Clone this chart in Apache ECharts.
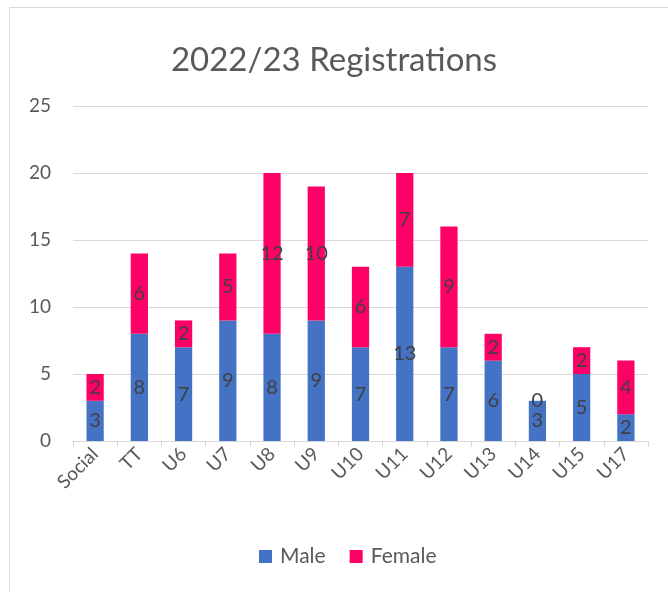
<!DOCTYPE html>
<html><head><meta charset="utf-8">
<script src="https://cdn.jsdelivr.net/npm/echarts@6/dist/echarts.min.js"></script>
<style>html,body{margin:0;padding:0;background:#fff}#c{width:668px;height:592px}</style>
</head><body><div id="c"></div>
<script>
var categories = ['Social','TT','U6','U7','U8','U9','U10','U11','U12','U13','U14','U15','U17'];
var male = [3,8,7,9,8,9,7,13,7,6,3,5,2];
var female = [2,6,2,5,12,10,6,7,9,2,0,2,4];
var yTicks = {min:0, max:25, interval:5};
var FONT = 'Lato, "Liberation Sans", sans-serif';
var chart = echarts.init(document.getElementById('c'));
var lbl = {show:true, position:'inside', color:'#404040', fontSize:20, fontFamily:FONT};
chart.setOption({
  animation:false,
  graphic:[{type:'polyline', shape:{points:[[9.5,600],[9.5,7.5],[680,7.5]]}, style:{stroke:'#D9D9D9', lineWidth:1, fill:null}}],
  title:{text:'2022/23 Registrations', left:'center', top:39, textStyle:{color:'#595959', fontSize:33, fontWeight:'normal', fontFamily:FONT}},
  legend:{bottom:20, left:254, itemWidth:13, itemHeight:13, itemGap:24, icon:'rect', textStyle:{color:'#595959', fontSize:21, fontFamily:FONT, padding:[0,0,0,3]}, data:['Male','Female']},
  grid:{left:73, right:20, top:106, bottom:151, containLabel:false},
  xAxis:{type:'category', data:categories,
    axisLine:{lineStyle:{color:'#D9D9D9'}},
    axisTick:{show:true, length:6, lineStyle:{color:'#D9D9D9'}},
    axisLabel:{rotate:45, color:'#595959', fontSize:19, fontFamily:FONT, margin:10}},
  yAxis:{type:'value', min:yTicks.min, max:yTicks.max, interval:yTicks.interval,
    axisLine:{show:false}, axisTick:{show:false},
    splitLine:{lineStyle:{color:'#D9D9D9'}},
    axisLabel:{color:'#595959', fontSize:19, fontFamily:FONT, margin:22}},
  series:[
    {name:'Male', type:'bar', stack:'a', data:male, barWidth:'39%', itemStyle:{color:'#4472C4'}, label:lbl},
    {name:'Female', type:'bar', stack:'a', data:female, barWidth:'39%', itemStyle:{color:'#FF0066'}, label:lbl}
  ]
});
</script></body></html>
